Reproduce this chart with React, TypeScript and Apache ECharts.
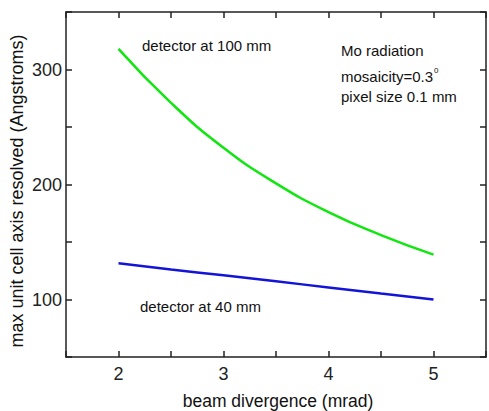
import React, { useEffect, useRef } from "react";
import * as echarts from "echarts";

const xValues = [2, 2.5, 3, 3.5, 4, 4.5, 5];
const detector100 = [318, 271, 232, 201, 176, 156, 139];
const detector40 = [131.5, 126, 121, 115.8, 110.5, 105.2, 100];
const xTickLabels = [2, 3, 4, 5];
const yTickLabels = [100, 200, 300];

const FONT = "'Liberation Sans', Arial, sans-serif";
const AXIS_COLOR = "#222";

export default function App() {
  const ref = useRef<HTMLDivElement>(null);
  useEffect(() => {
    if (!ref.current) return;
    const chart = echarts.init(ref.current, null, { renderer: "svg" });
    const lineStyle = { color: AXIS_COLOR, width: 1.5 };
    const baseX = {
      type: "value" as const,
      min: 1.5,
      max: 5.5,
      interval: 0.5,
      splitLine: { show: false },
      axisLine: { show: true, onZero: false, lineStyle },
      axisTick: { show: true, inside: true, length: 6, lineStyle },
    };
    const baseY = {
      type: "value" as const,
      min: 50,
      max: 350,
      interval: 50,
      splitLine: { show: false },
      axisLine: { show: true, onZero: false, lineStyle },
      axisTick: { show: true, inside: true, length: 6, lineStyle },
    };
    chart.setOption({
      animation: false,
      backgroundColor: "#fff",
      grid: { left: 66, top: 12, right: 1, bottom: 54 },
      xAxis: [
        {
          ...baseX,
          position: "bottom",
          axisLabel: {
            fontSize: 18,
            fontFamily: FONT,
            color: AXIS_COLOR,
            margin: 8,
            formatter: (v: number) => (xTickLabels.includes(v) ? String(v) : ""),
          },
        },
        { ...baseX, position: "top", axisLabel: { show: false } },
      ],
      yAxis: [
        {
          ...baseY,
          position: "left",
          axisLabel: {
            fontSize: 18,
            fontFamily: FONT,
            color: AXIS_COLOR,
            margin: 4,
            formatter: (v: number) => (yTickLabels.includes(v) ? String(v) : ""),
          },
        },
        { ...baseY, position: "right", axisLabel: { show: false } },
      ],
      series: [
        {
          type: "line",
          name: "detector at 100 mm",
          data: xValues.map((x, i) => [x, detector100[i]]),
          smooth: true,
          showSymbol: false,
          lineStyle: { color: "#11e611", width: 2.5 },
          xAxisIndex: 0,
          yAxisIndex: 0,
        },
        {
          type: "line",
          name: "detector at 40 mm",
          data: xValues.map((x, i) => [x, detector40[i]]),
          smooth: true,
          showSymbol: false,
          lineStyle: { color: "#1414d8", width: 2.5 },
          xAxisIndex: 0,
          yAxisIndex: 0,
        },
      ],
      graphic: [
        {
          type: "text",
          x: 142,
          y: 45,
          style: { text: "detector at 100 mm", fontSize: 15, fontFamily: FONT, fill: "#111", textVerticalAlign: "middle" },
        },
        {
          type: "text",
          x: 140,
          y: 306,
          style: { text: "detector at 40 mm", fontSize: 15, fontFamily: FONT, fill: "#111", textVerticalAlign: "middle" },
        },
        {
          type: "text",
          x: 341,
          y: 50,
          style: { text: "Mo radiation", fontSize: 15, fontFamily: FONT, fill: "#111", textVerticalAlign: "middle" },
        },
        {
          type: "text",
          x: 341,
          y: 76,
          style: { text: "mosaicity=0.3", fontSize: 15, fontFamily: FONT, fill: "#111", textVerticalAlign: "middle" },
        },
        {
          type: "text",
          x: 434,
          y: 70,
          style: { text: "0", fontSize: 8, fontFamily: FONT, fill: "#111", textVerticalAlign: "middle" },
        },
        {
          type: "text",
          x: 341,
          y: 96,
          style: { text: "pixel size 0.1 mm", fontSize: 15, fontFamily: FONT, fill: "#111", textVerticalAlign: "middle" },
        },
        {
          type: "text",
          x: 17,
          y: 191,
          rotation: Math.PI / 2,
          style: {
            text: "max unit cell axis resolved (Angstroms)",
            fontSize: 18,
            fontFamily: FONT,
            fill: "#111",
            textAlign: "center",
            textVerticalAlign: "middle",
          },
        },
        {
          type: "text",
          x: 278,
          y: 401,
          style: {
            text: "beam divergence (mrad)",
            fontSize: 17.5,
            fontFamily: FONT,
            fill: "#111",
            textAlign: "center",
            textVerticalAlign: "middle",
          },
        },
      ],
    });
    return () => chart.dispose();
  }, []);
  return (
    <div
      ref={ref}
      style={{ position: "fixed", left: 0, top: 0, width: 489, height: 411, background: "#fff" }}
    />
  );
}
